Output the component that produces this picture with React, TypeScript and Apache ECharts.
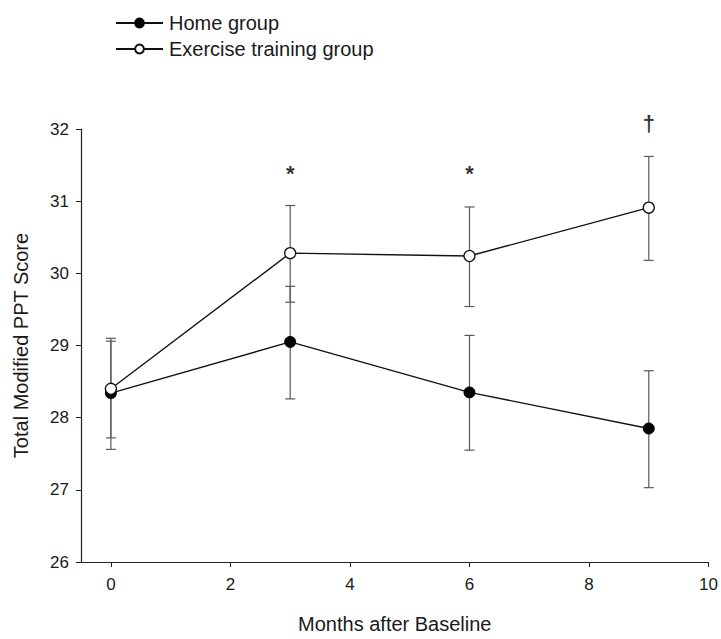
import React, { useEffect, useRef } from "react";
import * as echarts from "echarts";

const months = [0, 3, 6, 9];
const homeMean = [28.34, 29.05, 28.35, 27.85];
const homeUpper = [29.06, 29.82, 29.14, 28.65];
const homeLower = [27.56, 28.26, 27.55, 27.03];
const exerciseMean = [28.4, 30.28, 30.24, 30.91];
const exerciseUpper = [29.1, 30.94, 30.92, 31.62];
const exerciseLower = [27.72, 29.6, 29.54, 30.18];
const xTickValues = [0, 2, 4, 6, 8, 10];
const annotationX = [3, 6, 9];
const annotationY = [31.38, 31.38, 32.08];
const annotationText = ["*", "*", "†"];

const FONT = "'Liberation Sans', Arial, Helvetica, sans-serif";

export default function App() {
  const ref = useRef<HTMLDivElement>(null);
  useEffect(() => {
    if (!ref.current) return;
    const chart = echarts.init(ref.current, undefined, { renderer: "svg" });
    const errData = [
      ...months.map((m, i) => [m, homeLower[i], homeUpper[i]]),
      ...months.map((m, i) => [m, exerciseLower[i], exerciseUpper[i]]),
    ];
    const renderErr = (params: any, api: any) => {
      const x = api.value(0);
      const lo = api.coord([x, api.value(1)]);
      const hi = api.coord([x, api.value(2)]);
      const w = 5;
      const style = { stroke: "#5a5a5a", lineWidth: 1.2 };
      return {
        type: "group",
        children: [
          { type: "line", shape: { x1: lo[0], y1: lo[1], x2: hi[0], y2: hi[1] }, style },
          { type: "line", shape: { x1: lo[0] - w, y1: lo[1], x2: lo[0] + w, y2: lo[1] }, style },
          { type: "line", shape: { x1: hi[0] - w, y1: hi[1], x2: hi[0] + w, y2: hi[1] }, style },
        ],
      };
    };
    chart.setOption({
      animation: false,
      backgroundColor: "#fff",
      textStyle: { fontFamily: FONT },
      grid: { left: 81, right: 12, top: 129, bottom: 71 },
      legend: {
        data: ["Home group", "Exercise training group"],
        orient: "vertical",
        left: 110,
        top: 8,
        itemWidth: 47,
        itemHeight: 11,
        itemGap: 6,
        textStyle: { fontSize: 20, color: "#1a1a1a", fontFamily: FONT, padding: [0, 0, 0, 1] },
      },
      xAxis: {
        type: "value",
        min: -0.5,
        max: 10,
        name: "Months after Baseline",
        nameLocation: "middle",
        nameGap: 52,
        nameTextStyle: { fontSize: 20, color: "#1a1a1a", fontFamily: FONT },
        splitLine: { show: false },
        axisLine: { onZero: false, lineStyle: { color: "#222", width: 1.2 } },
        axisTick: { customValues: xTickValues, length: 5, lineStyle: { color: "#222" } },
        axisLabel: { customValues: xTickValues, fontSize: 17, color: "#1a1a1a", margin: 14, fontFamily: FONT },
      },
      yAxis: {
        type: "value",
        min: 26,
        max: 32,
        interval: 1,
        name: "Total Modified PPT Score",
        nameLocation: "middle",
        nameGap: 50,
        nameTextStyle: { fontSize: 20, color: "#1a1a1a", fontFamily: FONT },
        splitLine: { show: false },
        axisLine: { show: true, onZero: false, lineStyle: { color: "#222", width: 1.2 } },
        axisTick: { show: true, length: 5, lineStyle: { color: "#222" } },
        axisLabel: { fontSize: 17, color: "#1a1a1a", margin: 12, fontFamily: FONT },
      },
      series: [
        {
          type: "custom",
          name: "err",
          renderItem: renderErr,
          data: errData,
          encode: { x: 0, y: [1, 2] },
          z: 1,
          silent: true,
        },
        {
          type: "line",
          name: "Home group",
          data: months.map((m, i) => [m, homeMean[i]]),
          symbol: "circle",
          symbolSize: 11,
          lineStyle: { color: "#111", width: 1.4 },
          itemStyle: { color: "#000", borderColor: "#000", borderWidth: 1 },
          z: 3,
        },
        {
          type: "line",
          name: "Exercise training group",
          data: months.map((m, i) => [m, exerciseMean[i]]),
          symbol: "circle",
          symbolSize: 11,
          showAllSymbol: true,
          lineStyle: { color: "#111", width: 1.4 },
          itemStyle: { color: "#fff", borderColor: "#111", borderWidth: 1.3 },
          z: 4,
        },
        {
          type: "scatter",
          name: "annotations",
          clip: false,
          symbolSize: 0,
          itemStyle: { color: "#000" },
          data: annotationX.map((x, i) => [x, annotationY[i], annotationText[i]]),
          label: {
            show: true,
            position: "inside",
            formatter: (p: any) => p.value[2],
            fontSize: 22,
            fontWeight: "bold",
            color: "#000",
            fontFamily: FONT,
          },
          z: 5,
        },
      ],
    });
    return () => chart.dispose();
  }, []);
  return (
    <div
      ref={ref}
      style={{ position: "absolute", left: 0, top: 0, width: 721, height: 639, background: "#fff" }}
    />
  );
}
